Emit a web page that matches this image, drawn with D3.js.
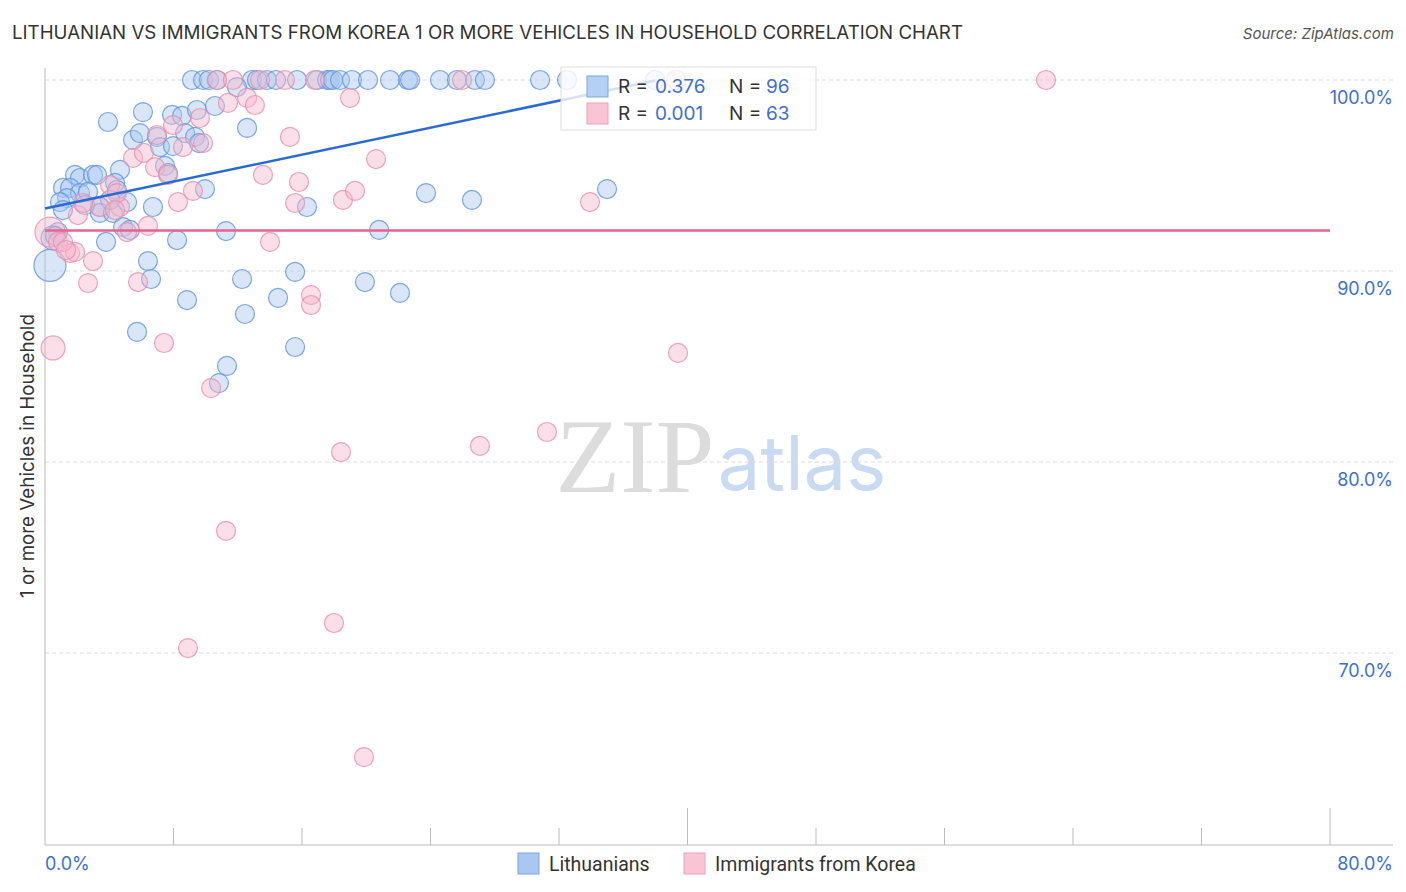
<!DOCTYPE html>
<html>
<head>
<meta charset="utf-8">
<script src="https://cdn.jsdelivr.net/npm/d3@7"></script>
<style>
  body { margin: 0; background: #fff; }
  svg text { font-family: Inter, "Open Sans", sans-serif; }
</style>
</head>
<body>
<div id="chart"></div>
<script>
// Lithuanians: [x %, y %, radius]
const lithuanians = [
  [9.15,100],[9.84,100],[10.21,100],[10.71,100],[12.89,100],[13.20,100],[13.82,100],[14.38,100],
  [15.69,100],[16.94,100],[17.56,100],[17.74,100],[17.93,100],[18.37,100],[19.11,100],[20.11,100],
  [21.48,100],[22.60,100],[22.73,100],[24.59,100],[25.65,100],[26.77,100],[27.39,100],[30.82,100],
  [32.50,100],[37.98,100],
  [6.10,98.32],[3.92,97.80],[7.91,98.17],[8.53,98.12],[9.46,98.43],[10.58,98.64],[11.95,99.63],
  [12.58,97.49],[5.48,96.86],[5.91,97.22],[6.97,97.02],[7.16,96.49],[8.72,97.22],[7.97,96.54],
  [9.34,97.02],[9.59,96.70],[7.47,95.50],[7.66,95.13],[4.67,95.29],[4.36,94.61],[4.48,94.24],
  [1.87,95.03],[2.18,94.87],[2.99,95.03],[3.24,95.03],[1.12,94.35],[1.56,94.35],[2.18,94.08],
  [2.68,94.14],[1.37,93.82],[0.93,93.61],[1.12,93.19],[3.42,93.35],[3.42,93.04],[4.23,93.04],
  [5.11,93.61],[6.72,93.35],[9.96,94.29],[4.86,92.30],[5.29,92.15],[0.81,92.04],[0.50,91.73,12],
  [3.80,91.52],[8.22,91.62],[11.27,92.09],[0.31,90.29,16],[6.41,90.52],[6.60,89.58],[12.27,89.58],
  [8.84,88.48],[14.51,88.59],[15.57,89.95],[12.45,87.75],[23.72,94.08],[26.58,93.72],[34.99,94.29],
  [16.31,93.35],[20.80,92.15],[19.92,89.42],[22.10,88.85],[5.73,86.81],[11.33,85.03],[10.83,84.13],
  [15.57,86.02],[0.62,91.83],[2.49,93.45],[4.05,93.72]
];

// Immigrants from Korea: [x %, y %, radius]
const korea = [
  [10.71,100],[11.70,100],[13.39,100],[14.94,100],[16.81,100],[25.96,100],[39.29,100],[62.32,100],
  [18.99,99.06],[11.39,98.80],[12.58,99.06],[13.07,98.69],[15.25,97.02],[15.81,94.66],[15.57,93.56],
  [13.57,95.03],[7.97,97.64],[9.65,98.01],[6.97,97.12],[9.84,96.70],[8.59,96.49],[5.48,95.92],
  [6.16,96.18],[6.85,95.44],[7.66,95.03],[9.21,94.19],[8.28,93.61],[4.05,94.50],[4.67,93.35],
  [6.41,92.36],[5.11,92.04],[2.05,92.93],[3.42,93.35],[2.37,93.56],[0.31,92.04,15],[0.81,91.52],
  [1.56,90.94],[1.87,91.00],[2.99,90.52],[2.68,89.37],[14.01,91.52],[20.61,95.86],[18.55,93.72],
  [19.30,94.19],[33.93,93.61],[16.56,88.74],[16.56,88.22],[5.79,89.42],[0.50,85.97,12],[7.41,86.23],
  [10.34,83.87],[39.41,85.71],[31.25,81.57],[27.08,80.84],[18.43,80.52],[11.27,76.39],[17.99,71.57],
  [8.90,70.26],[19.86,64.55],[4.48,94.08],[1.12,91.52],[1.31,91.10],[4.36,93.19]
];

// regression lines
const blueTrend = { x0: 0, x1: 38, intercept: 93.27, slope: 0.1765 };
const pinkTrend = { x0: 0, x1: 80, intercept: 92.12, slope: 0 };

const yTicks = [70, 80, 90, 100];
const xTickVals = [0, 8, 16, 24, 32, 40, 48, 56, 64, 72, 80];
const legendStats = [
  { r: "0.376", n: "96" },
  { r: "0.001", n: "63" }
];
const seriesNames = ["Lithuanians", "Immigrants from Korea"];

const width = 1406, height = 892;
const blueFill = "#a9c7f0", blueStroke = "#5f93dd", blueLine = "#2a6bd2";
const pinkFill = "#f6b9cc", pinkStroke = "#e98fab", pinkLine = "#e8628c";
const labelBlue = "#3d6fcf";

const svg = d3.select("#chart")
  .append("svg")
  .attr("width", width)
  .attr("height", height);

const x = d3.scaleLinear().domain([0, 80]).range([45, 1330]);
const y = d3.scaleLinear().domain([60, 100]).range([844, 80]);

// Title
svg.append("text")
  .attr("x", 12).attr("y", 39)
  .attr("font-size", 18)
  .attr("fill", "#333")
  .attr("textLength", 951)
  .attr("lengthAdjust", "spacingAndGlyphs")
  .text("LITHUANIAN VS IMMIGRANTS FROM KOREA 1 OR MORE VEHICLES IN HOUSEHOLD CORRELATION CHART");

svg.append("text")
  .attr("x", 1394).attr("y", 39)
  .attr("text-anchor", "end")
  .attr("font-size", 15)
  .attr("font-style", "italic")
  .attr("fill", "#555")
  .text("Source: ZipAtlas.com");

// Watermark
svg.append("text")
  .attr("x", 635).attr("y", 492)
  .attr("text-anchor", "middle")
  .attr("font-size", 106)
  .attr("fill", "#dcdcdc")
  .style("font-family", "'Liberation Serif', 'DejaVu Serif', serif")
  .text("ZIP");
svg.append("text")
  .attr("x", 802).attr("y", 490)
  .attr("text-anchor", "middle")
  .attr("font-size", 76)
  .attr("fill", "#c9dbf2")
  .text("atlas");

// Gridlines
svg.append("g")
  .selectAll("line")
  .data(yTicks)
  .enter()
  .append("line")
  .attr("x1", 45).attr("x2", 1393)
  .attr("y1", d => y(d)).attr("y2", d => y(d))
  .attr("stroke", "#dddddd")
  .attr("stroke-dasharray", "4,3");

svg.append("g")
  .selectAll("text")
  .data(yTicks)
  .enter()
  .append("text")
  .attr("x", 1393)
  .attr("y", d => y(d) + 24)
  .attr("text-anchor", "end")
  .attr("font-size", 18)
  .attr("fill", labelBlue)
  .text(d => d.toFixed(1) + "%");

// Axes
svg.append("line")
  .attr("x1", 45).attr("x2", 45).attr("y1", 68).attr("y2", 845)
  .attr("stroke", "#bbb");
svg.append("line")
  .attr("x1", 45).attr("x2", 1393).attr("y1", 845).attr("y2", 845)
  .attr("stroke", "#bbb");
svg.append("g")
  .selectAll("line")
  .data(xTickVals.slice(1))
  .enter()
  .append("line")
  .attr("x1", d => x(d)).attr("x2", d => x(d))
  .attr("y1", d => (d === 40 || d === 80) ? 808 : 828)
  .attr("y2", 845)
  .attr("stroke", "#bbb");

svg.append("text")
  .attr("x", 45).attr("y", 870)
  .attr("font-size", 18)
  .attr("fill", labelBlue)
  .text("0.0%");
svg.append("text")
  .attr("x", 1393).attr("y", 870)
  .attr("text-anchor", "end")
  .attr("font-size", 18)
  .attr("fill", labelBlue)
  .text("80.0%");

svg.append("text")
  .attr("transform", "translate(34,456) rotate(-90)")
  .attr("text-anchor", "middle")
  .attr("font-size", 18.8)
  .attr("fill", "#333")
  .text("1 or more Vehicles in Household");

// Points
function drawPoints(data, fill, stroke) {
  svg.append("g")
    .selectAll("circle")
    .data(data)
    .enter()
    .append("circle")
    .attr("cx", d => x(d[0]))
    .attr("cy", d => y(d[1]))
    .attr("r", d => d[2] || 9.5)
    .attr("fill", fill)
    .attr("fill-opacity", 0.45)
    .attr("stroke", stroke)
    .attr("stroke-opacity", 0.8)
    .attr("stroke-width", 1.2);
}
drawPoints(lithuanians, blueFill, blueStroke);
drawPoints(korea, pinkFill, pinkStroke);

// Trend lines
const line = d3.line().x(d => x(d[0])).y(d => y(d[1]));
[[blueTrend, blueLine], [pinkTrend, pinkLine]].forEach(([t, c]) => {
  svg.append("path")
    .datum([[t.x0, t.intercept + t.slope * t.x0], [t.x1, t.intercept + t.slope * t.x1]])
    .attr("d", line)
    .attr("fill", "none")
    .attr("stroke", c)
    .attr("stroke-width", 2.5);
});

// Stats legend
const lg = svg.append("g");
lg.append("rect")
  .attr("x", 561).attr("y", 67).attr("width", 255).attr("height", 63)
  .attr("fill", "#fff").attr("fill-opacity", 0.8)
  .attr("stroke", "#ddd");
legendStats.forEach((s, i) => {
  const yy = 76 + i * 27;
  lg.append("rect")
    .attr("x", 587).attr("y", yy).attr("width", 21).attr("height", 21)
    .attr("fill", i === 0 ? "#b4d0f5" : "#f9c5d5")
    .attr("stroke", i === 0 ? "#7aa6e6" : "#eea0b8");
  const t = lg.append("text").attr("x", 618).attr("y", yy + 17).attr("font-size", 19);
  t.append("tspan").attr("fill", "#333").text("R = ");
  t.append("tspan").attr("x", 655).attr("fill", labelBlue).text(s.r);
  t.append("tspan").attr("x", 729).attr("fill", "#333").text("N = ");
  t.append("tspan").attr("x", 766).attr("fill", labelBlue).text(s.n);
});

// Bottom legend
const bl = svg.append("g");
[[518, blueFill, "#7aa6e6"], [684, "#f9c5d5", "#eea0b8"]].forEach(([lx, f, s], i) => {
  bl.append("rect")
    .attr("x", lx).attr("y", 853).attr("width", 21).attr("height", 21)
    .attr("fill", f).attr("stroke", s);
  bl.append("text")
    .attr("x", lx + 31).attr("y", 871)
    .attr("font-size", 19.5)
    .attr("fill", "#333")
    .style("font-family", "Roboto, sans-serif")
    .text(seriesNames[i]);
});
</script>
</body>
</html>
